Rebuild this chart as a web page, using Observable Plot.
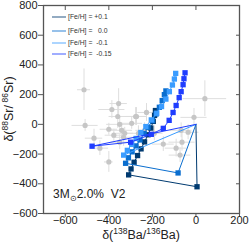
<!DOCTYPE html>
<html><head><meta charset="utf-8">
<script src="https://cdn.jsdelivr.net/npm/d3@7"></script>
<script src="https://cdn.jsdelivr.net/npm/@observablehq/plot@0.6"></script>
<style>body{margin:0;background:#fff} svg{display:block}</style>
</head><body><div id="chart"></div>
<script>
// Observed grains (gray)
const grainBa    = [-514,-355,-386,-359,-273,-227,-295,-350,-509,-468,-400,-341,-327,-332,-377,-264,-236,-350,  41,  -9, -64, -91,-150, -73, -36, -68,-400,-441,-191,-277];
const grainSr    = [ 233, 140, 100,  53,  53,  80,   7,   0,  -7, -93, -33, -40, -60, -87, -73, -60, -40,-120, 173,  47,-120,-160,-133,-207, -53, -40,-253,-160, -60,  53];
const grainBaErr = [  30,  40,  60,  40,  50,  40,  50,  60,  60,  40,  40,  50,  40,  50,  40,  50,  40,  40, 100,  60,  60,  50,  50,  50,  50,  50,  20,  40,  40,  50];
const grainSrErr = [ 140, 100,  60,  80,  60,  60,  40,  50,  40,  60,  40,  50,  40,  60,  40,  50,  50,  50, 120,  60,  60,  60,  50,  50,  50,  50,  70,  50,  50,  60];

// Model tracks 3 Msun, 2.0% V2
const fehLabels = ["+0.1", "\u00a0\u00a00.0", "\u00a0-0.1", "\u00a0-0.15"];
const fehColors = ["#003a70", "#0a6ecf", "#3a9cff", "#1f3dff"];
const trackBa_p010 = [0,   5,-309,-298,-284,-268,-252,-236,-220,-207,-196,-190,-186];
const trackSr_p010 = [0,-420,-340,-300,-255,-210,-165,-118, -70, -25,  20,  60,  93];
const trackBa_000  = [0, -82,-323,-310,-293,-275,-257,-238,-220,-200,-183,-168,-155,-145,-138];
const trackSr_000  = [0,-327,-262,-225,-185,-145,-105, -62, -20,  25,  70, 115, 160, 200, 225];
const trackBa_m010 = [0,-332,-315,-295,-275,-253,-230,-205,-180,-158,-138,-122,-108, -99, -93];
const trackSr_m010 = [0,-207,-175,-135, -95, -55, -15,  30,  75, 120, 170, 220, 265, 305, 343];
const trackBa_m015 = [0,-477,-300,-205,-150,-123,-105, -91, -77, -68, -59, -55, -50];
const trackSr_m015 = [0,-147,-120, -67, -27,  27,  80, 127, 180, 220, 267, 307, 347];

const xTicks = [-600,-400,-200,0,200];
const yTicks = [-600,-400,-200,0,200,400,600,800];

const grains = grainBa.map((b,i)=>({ba:b, sr:grainSr[i], eb:grainBaErr[i], es:grainSrErr[i]}));
const tracks = [
  [trackBa_p010, trackSr_p010],
  [trackBa_000, trackSr_000],
  [trackBa_m010, trackSr_m010],
  [trackBa_m015, trackSr_m015]
].map(([bx, sy], k) => bx.map((b,i)=>({ba:b, sr:sy[i], i, k})));

const trackMarks = tracks.flatMap((t,k)=>[
  Plot.line(t, {x:"ba", y:"sr", stroke: fehColors[k], strokeWidth:1}),
  Plot.dot(t.filter(d=>d.i>0), {x:"ba", y:"sr", symbol:"square", r:3, fill: fehColors[k], stroke:"none"})
]);

const font = "Liberation Sans, Arial, Helvetica, sans-serif";
const fmt = d => d < 0 ? "\u2212" + (-d) : String(d);
const plot = Plot.plot({
  width: 249, height: 242,
  marginLeft: 43, marginRight: 10, marginTop: 5, marginBottom: 29,
  style: {fontFamily: font, fontSize: "11px", color:"#222", background:"#fff"},
  x: {domain:[-700,200]},
  y: {domain:[-600,800]},
  marks: [
    Plot.ruleY(grains, {y:"sr", x1:d=>d.ba-d.eb, x2:d=>d.ba+d.eb, stroke:"#dedede", strokeWidth:1}),
    Plot.ruleX(grains, {x:"ba", y1:d=>d.sr-d.es, y2:d=>d.sr+d.es, stroke:"#dedede", strokeWidth:1}),
    Plot.dot(grains, {x:"ba", y:"sr", r:2.6, fill:"#c6c6c6", stroke:"none"}),
    ...trackMarks,
    Plot.frame({stroke:"#555", strokeWidth:1.3}),
    Plot.axisX({anchor:"bottom", ticks:xTicks, tickSize:4, tickPadding:-1, label:null, stroke:"#555", tickFormat:fmt}),
    Plot.axisX({anchor:"top", ticks:xTicks, tickSize:-4, tickFormat:()=>"", label:null, stroke:"#555"}),
    Plot.axisY({anchor:"left", ticks:yTicks, tickSize:5, tickPadding:1, label:null, stroke:"#555", tickFormat:fmt}),
    Plot.axisY({anchor:"right", ticks:yTicks, tickSize:-4, tickFormat:()=>"", label:null, stroke:"#555"})
  ]
});
document.getElementById("chart").appendChild(plot);

const svg = d3.select(plot);
// Axis titles
const xl = svg.append("text").attr("x", 141).attr("y", 239).attr("text-anchor","middle")
  .attr("font-size", 12.5).attr("fill","#222").attr("font-family", font);
xl.append("tspan").text("\u03b4(");
xl.append("tspan").attr("font-size", 8.5).attr("dy", -5).text("138");
xl.append("tspan").attr("dy", 5).text("Ba/");
xl.append("tspan").attr("font-size", 8.5).attr("dy", -5).text("136");
xl.append("tspan").attr("dy", 5).text("Ba)");

const yl = svg.append("text").attr("transform","translate(13,109) rotate(-90)").attr("text-anchor","middle")
  .attr("font-size", 12.5).attr("fill","#222").attr("font-family", font);
yl.append("tspan").text("\u03b4(");
yl.append("tspan").attr("font-size", 8.5).attr("dy", -5).text("88");
yl.append("tspan").attr("dy", 5).text("Sr/\u2009");
yl.append("tspan").attr("font-size", 8.5).attr("dy", -5).text("86");
yl.append("tspan").attr("dy", 5).text("Sr)");

// Annotation
const an = svg.append("text").attr("x", 53).attr("y", 198).attr("text-anchor","start")
  .attr("font-size", 12).attr("fill","#222").attr("font-family", font);
an.append("tspan").text("3M");
an.append("tspan").attr("font-size", 8).attr("dy", 3).text("\u2299");
an.append("tspan").attr("dy", -3).text("2.0%\u00a0\u00a0V2");

// Legend
const legY = [17, 31, 43, 54];
fehLabels.forEach((lab, k) => {
  svg.append("line").attr("x1", 52).attr("x2", 66).attr("y1", legY[k]).attr("y2", legY[k])
    .attr("stroke", fehColors[k]).attr("stroke-width", 1.2).attr("opacity", 0.7);
  svg.append("text").attr("x", 68).attr("y", legY[k]).attr("dy", "0.35em").attr("text-anchor","start")
    .attr("font-size", 6.8).attr("fill", "#333").attr("font-family", font)
    .text("[Fe/H] = " + lab);
});
</script>
</body></html>
